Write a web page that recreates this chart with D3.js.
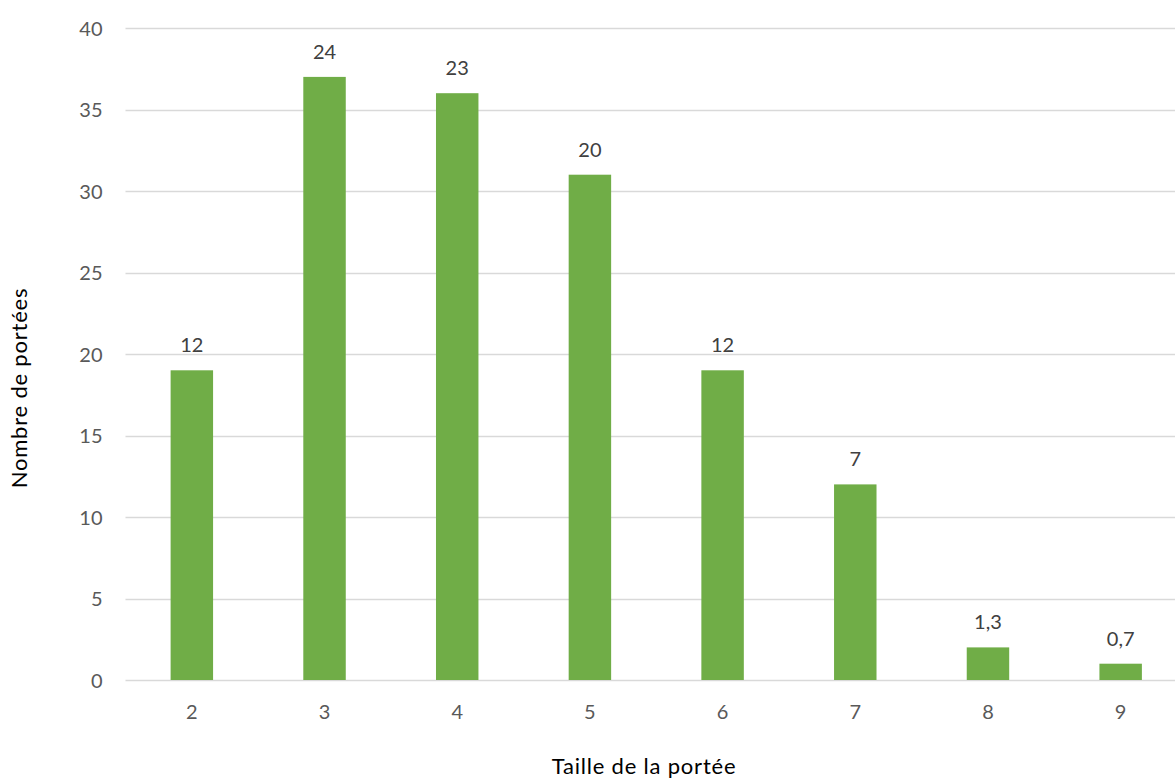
<!DOCTYPE html>
<html>
<head>
<meta charset="utf-8">
<script src="https://cdn.jsdelivr.net/npm/d3@7"></script>
<style>
  html, body { margin: 0; padding: 0; background: #fff; }
  svg { display: block; }
  text { font-family: Lato, "Open Sans", sans-serif; }
</style>
</head>
<body>
<svg id="chart" width="1175" height="780"></svg>
<script>
// Litter size distribution
const categories = ["2", "3", "4", "5", "6", "7", "8", "9"];
const counts = [19, 37, 36, 31, 19, 12, 2, 1];          // number of litters
const percentLabels = ["12", "24", "23", "20", "12", "7", "1,3", "0,7"]; // share of litters (%)
const yTicks = [0, 5, 10, 15, 20, 25, 30, 35, 40];

const width = 1175, height = 780;
const margin = { top: 28, right: -12, bottom: 100, left: 125.5 };

const svg = d3.select("#chart");

const x = d3.scaleBand()
  .domain(categories)
  .range([margin.left, width - margin.right])
  .paddingInner(0.68)
  .paddingOuter(0.34);

const y = d3.scaleLinear()
  .domain([0, 40])
  .range([height - margin.bottom, margin.top]);

// Horizontal gridlines
svg.append("g")
  .selectAll("line")
  .data(yTicks)
  .join("line")
  .attr("x1", margin.left)
  .attr("x2", width - margin.right)
  .attr("y1", d => Math.round(y(d)) + 0.5)
  .attr("y2", d => Math.round(y(d)) + 0.5)
  .attr("stroke", "#d9d9d9")
  .attr("stroke-width", 1.5);

// Y axis labels
const yAxis = d3.axisLeft(y).tickValues(yTicks).tickSize(0).tickPadding(0);
const gy = svg.append("g")
  .attr("transform", `translate(${margin.left - 23},0)`)
  .call(yAxis);
gy.select(".domain").remove();
gy.selectAll("text")
  .attr("fill", "#595959")
  .style("font-size", "20px")
  .attr("dy", "0.35em");

// X axis labels
const xAxis = d3.axisBottom(x).tickSize(0).tickPadding(0);
const gx = svg.append("g")
  .attr("transform", `translate(0,${y(0)})`)
  .call(xAxis);
gx.select(".domain").remove();
gx.selectAll("text")
  .attr("fill", "#595959")
  .style("font-size", "20px")
  .attr("dy", null)
  .attr("y", 39);

// Bars
svg.append("g")
  .selectAll("rect")
  .data(counts)
  .join("rect")
  .attr("x", (d, i) => x(categories[i]))
  .attr("width", x.bandwidth())
  .attr("y", d => y(d))
  .attr("height", d => y(0) - y(d))
  .attr("fill", "#70ad47");

// Percentage labels above bars
svg.append("g")
  .selectAll("text")
  .data(counts)
  .join("text")
  .attr("x", (d, i) => x(categories[i]) + x.bandwidth() / 2)
  .attr("y", d => y(d) - 18)
  .attr("text-anchor", "middle")
  .attr("fill", "#404040")
  .style("font-size", "20px")
  .text((d, i) => percentLabels[i]);

// Axis titles
svg.append("text")
  .attr("x", 644)
  .attr("y", 774)
  .attr("text-anchor", "middle")
  .attr("fill", "#000")
  .style("font-size", "22px")
  .style("letter-spacing", "0.8px")
  .text("Taille de la portée");

svg.append("text")
  .attr("transform", "translate(27,388) rotate(-90)")
  .attr("text-anchor", "middle")
  .attr("fill", "#000")
  .style("font-size", "22px")
  .style("letter-spacing", "0.8px")
  .text("Nombre de portées");
</script>
</body>
</html>
